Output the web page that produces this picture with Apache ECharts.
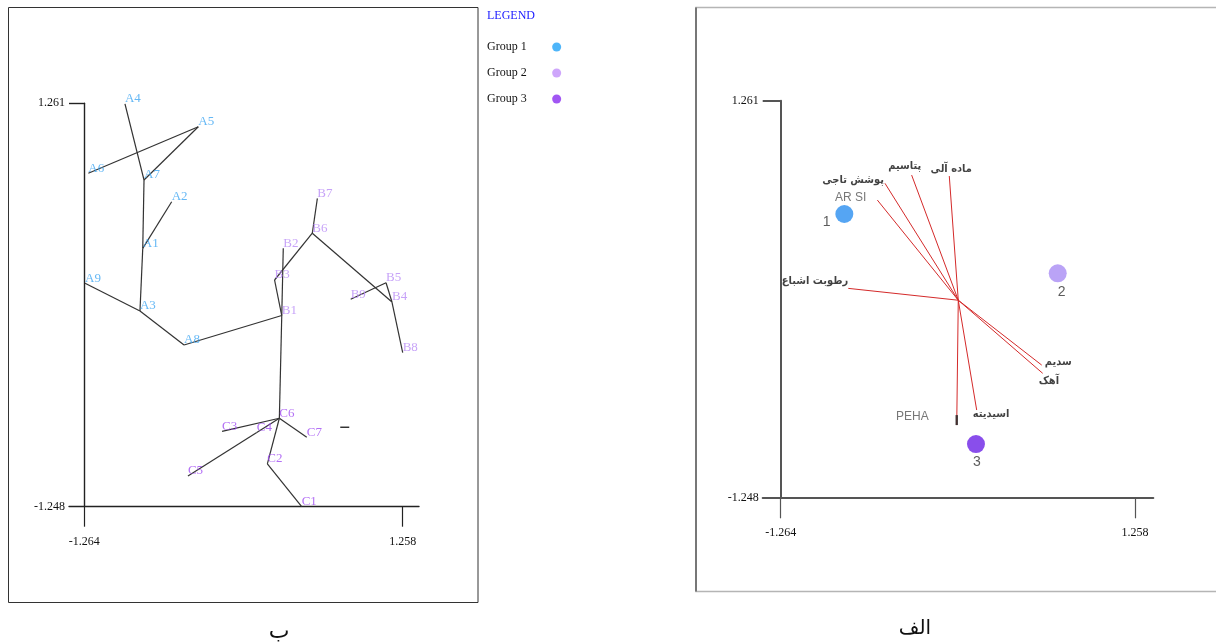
<!DOCTYPE html>
<html>
<head>
<meta charset="utf-8">
<script src="https://cdn.jsdelivr.net/npm/echarts@6/dist/echarts.min.js"></script>
<style>
  html, body { margin: 0; padding: 0; background: #fff; }
  #chart { width: 1216px; height: 643px; }
</style>
</head>
<body>
<div id="chart"></div>
<script>
// ---------- Panel ب : spanning tree of the sampling sites ----------
const sitesA  = ['A1', 'A2', 'A3', 'A4', 'A5', 'A6', 'A7', 'A8', 'A9'];
const sitesAX = [-0.801, -0.572, -0.823, -0.942, -0.361, -1.232, -0.791, -0.474, -1.258];
const sitesAY = [0.359, 0.649, -0.031, 1.257, 1.115, 0.826, 0.784, -0.242, 0.142];

const sitesB  = ['B1', 'B2', 'B3', 'B4', 'B5', 'B6', 'B7', 'B8', 'B9'];
const sitesBX = [0.300, 0.312, 0.243, 1.173, 1.126, 0.542, 0.582, 1.258, 0.846];
const sitesBY = [-0.059, 0.359, 0.162, 0.025, 0.145, 0.453, 0.670, -0.290, 0.042];

const sitesC  = ['C1', 'C2', 'C3', 'C4', 'C5', 'C6', 'C7'];
const sitesCX = [0.458, 0.186, -0.173, 0.102, -0.443, 0.281, 0.498];
const sitesCY = [-1.248, -0.982, -0.780, -0.787, -1.057, -0.698, -0.816];

const treeEdges = [
  ['A4', 'A7'], ['A5', 'A6'], ['A5', 'A7'], ['A7', 'A1'], ['A1', 'A2'], ['A1', 'A3'],
  ['A3', 'A9'], ['A3', 'A8'], ['A8', 'B1'], ['B1', 'B2'], ['B1', 'B3'], ['B3', 'B6'],
  ['B6', 'B7'], ['B6', 'B4'], ['B4', 'B5'], ['B5', 'B9'], ['B4', 'B8'], ['B1', 'C6'],
  ['C6', 'C7'], ['C6', 'C2'], ['C2', 'C1'], ['C6', 'C4'], ['C4', 'C5'], ['C6', 'C3']
];

// short stray dash inside the tree panel
const dashX = [0.799];
const dashY = [-0.754];

// ---------- Panel الف : group centroids and variable vectors ----------
const variables = ['ماده آلی', 'پتاسیم', 'پوشش تاجی', 'AR SI', 'رطوبت اشباع', 'سدیم', 'آهک', 'PEHA', 'اسیدیته'];
const loadingX  = [-0.064, -0.332, -0.522, -0.576, -0.783, 0.594, 0.601, -0.011, 0.131];
const loadingY  = [0.785, 0.791, 0.739, 0.633, 0.075, -0.410, -0.462, -0.789, -0.694];

const groupNames  = ['Group 1', 'Group 2', 'Group 3'];
const groupLabels = ['1', '2', '3'];
const centroidX   = [-0.811, 0.708, 0.126];
const centroidY   = [0.545, 0.170, -0.909];

// axis extremes printed on both panels
const xTicks = [-1.264, 1.258];
const yTicks = [-1.248, 1.261];

// ---------- styling ----------
const serif = 'Liberation Serif';
const arabicFont = '"DejaVu Sans Condensed", "DejaVu Sans"';
const siteColors = { A: '#3ea6f2', B: '#b98cf6', C: '#a04cf2' };
const groupDotColors = ['#2b8ef0', '#a98cf4', '#6c22e6'];
const legendDotColors = ['#22a2f8', '#c290fa', '#8a2cf0'];

const loadingLabelPlacement = {
  'ماده آلی':   { align: 'center', offset: [2, -7] },
  'پتاسیم':     { align: 'center', offset: [-7, -9] },
  'پوشش تاجی':  { align: 'right',  offset: [-1, -3] },
  'AR SI':      { align: 'right',  offset: [-11, -2] },
  'رطوبت اشباع': { align: 'right',  offset: [0, -7] },
  'سدیم':       { align: 'left',   offset: [3, -3] },
  'آهک':        { align: 'left',   offset: [-4, 8] },
  'PEHA':       { align: 'right',  offset: [-28, -8] },
  'اسیدیته':    { align: 'left',   offset: [-4, 4] }
};
const groupLabelOffset = [[-17.6, 7.7], [4, 18.4], [1, 18]];

// ---------- helpers ----------
const sitePos = {};
[[sitesA, sitesAX, sitesAY], [sitesB, sitesBX, sitesBY], [sitesC, sitesCX, sitesCY]].forEach(([n, xs, ys]) => {
  n.forEach((name, i) => { sitePos[name] = [xs[i], ys[i]]; });
});

function siteSeries(names, xs, ys, color) {
  return {
    type: 'scatter', xAxisIndex: 0, yAxisIndex: 0, clip: false, silent: true,
    symbolSize: 2, itemStyle: { color: 'rgba(0,0,0,0)' },
    label: {
      show: true, formatter: '{b}', position: 'inside', align: 'left', verticalAlign: 'bottom',
      offset: [0, 1.5], color: color, fontFamily: serif, fontSize: 13
    },
    data: names.map((n, i) => ({ name: n, value: [xs[i], ys[i]] }))
  };
}

function axesFor(gridIndex, xMin, xMax, tickLen, yTickLen, lineColor, lineWidth) {
  const labelStyle = { fontFamily: serif, fontSize: 12, color: '#111' };
  const xAxis = {
    gridIndex, type: 'value', position: 'bottom', min: xMin, max: xMax,
    splitLine: { show: false },
    axisLine: { show: true, onZero: false, lineStyle: { color: lineColor, width: lineWidth } },
    axisTick: { show: true, customValues: xTicks, length: tickLen, lineStyle: { color: lineColor, width: 1.2 } },
    axisLabel: Object.assign({ customValues: xTicks, margin: 29, formatter: v => v.toFixed(3) }, labelStyle)
  };
  const yLabels = {
    gridIndex, type: 'value', position: 'left', min: yTicks[0], max: yTicks[1],
    splitLine: { show: false },
    axisLine: { show: false, onZero: false },
    axisTick: { show: true, inside: true, customValues: [yTicks[1]], length: yTickLen,
                lineStyle: { color: lineColor, width: lineWidth } },
    axisLabel: Object.assign({ customValues: yTicks, margin: 4, padding: [0, 0, 8, 0],
                               formatter: v => v.toFixed(3) }, labelStyle)
  };
  const yLine = {
    gridIndex, type: 'value', position: 'left', min: yTicks[0], max: yTicks[1], offset: -yTickLen,
    splitLine: { show: false },
    axisLine: { show: true, onZero: false, lineStyle: { color: lineColor, width: lineWidth } },
    axisTick: { show: false }, axisLabel: { show: false }
  };
  return { xAxis, yAxes: [yLabels, yLine] };
}

const leftAxes = axesFor(0, -1.3852, 1.3871, 20, 15.3, '#222', 1.4);
const rightAxes = axesFor(1, -1.3921, 1.3882, 20.6, 18, '#555', 2);

const chart = echarts.init(document.getElementById('chart'), null, { renderer: 'canvas' });

const option = {
  backgroundColor: '#fff',
  animation: false,
  title: [{
    text: 'LEGEND', left: 487, top: 10, padding: 0,
    textStyle: { color: '#1a1aff', fontFamily: serif, fontSize: 12, fontWeight: 'normal' }
  }],
  legend: {
    orient: 'vertical', left: 487, top: 41, padding: 0, itemGap: 14,
    // wide icon box keeps the round dot centred well to the right of its name
    itemWidth: 50, itemHeight: 9, symbolKeepAspect: true,
    align: 'right', icon: 'circle', selectedMode: false,
    textStyle: { fontFamily: serif, fontSize: 12, color: '#111' },
    data: groupNames.map((n, i) => ({ name: n, itemStyle: { color: legendDotColors[i] } }))
  },
  grid: [
    { left: 69, top: 103.3, width: 350, height: 403.4, outerBoundsMode: 'none' },
    { left: 762.7, top: 100.7, width: 390.6, height: 397, outerBoundsMode: 'none' }
  ],
  xAxis: [leftAxes.xAxis, rightAxes.xAxis],
  yAxis: [leftAxes.yAxes[0], leftAxes.yAxes[1], rightAxes.yAxes[0], rightAxes.yAxes[1]],
  graphic: [
    { type: 'rect', silent: true, shape: { x: 8.5, y: 7.5, width: 469.5, height: 595 },
      style: { fill: 'none', stroke: '#333', lineWidth: 1 } },
    { type: 'rect', silent: true, shape: { x: 696, y: 7.5, width: 620, height: 584 },
      style: { fill: 'none', stroke: '#b5b5b5', lineWidth: 1.5 } },
    { type: 'line', silent: true, shape: { x1: 696, y1: 7.5, x2: 696, y2: 591.5 },
      style: { stroke: '#777', lineWidth: 2 } },
    { type: 'text', silent: true, x: 279, y: 632,
      style: { text: 'ب', font: '22px "DejaVu Sans"', fill: '#111', align: 'center', verticalAlign: 'middle' } },
    { type: 'text', silent: true, x: 915, y: 629,
      style: { text: 'الف', font: '20px "DejaVu Sans"', fill: '#111', align: 'center', verticalAlign: 'middle' } }
  ],
  series: [
    // tree edges
    {
      type: 'lines', coordinateSystem: 'cartesian2d', xAxisIndex: 0, yAxisIndex: 0, silent: true, clip: false,
      lineStyle: { color: '#333', width: 1.2, opacity: 1 },
      data: treeEdges.map(([a, b]) => ({ coords: [sitePos[a], sitePos[b]] }))
    },
    siteSeries(sitesA, sitesAX, sitesAY, siteColors.A),
    siteSeries(sitesB, sitesBX, sitesBY, siteColors.B),
    siteSeries(sitesC, sitesCX, sitesCY, siteColors.C),
    {
      type: 'scatter', xAxisIndex: 0, yAxisIndex: 0, silent: true, symbol: 'rect', symbolSize: [9, 1.5],
      itemStyle: { color: '#000' }, data: dashX.map((x, i) => [x, dashY[i]])
    },
    // variable vectors from the origin
    {
      type: 'lines', coordinateSystem: 'cartesian2d', xAxisIndex: 1, yAxisIndex: 2, silent: true, clip: false,
      lineStyle: { color: '#d42a2a', width: 1, opacity: 1 },
      data: variables.map((v, i) => ({ coords: [[0, 0], [loadingX[i], loadingY[i]]] }))
    },
    {
      type: 'scatter', xAxisIndex: 1, yAxisIndex: 2, silent: true, clip: false,
      symbolSize: 1, itemStyle: { color: 'rgba(0,0,0,0)' },
      data: variables.map((v, i) => {
        const p = loadingLabelPlacement[v];
        const latin = /^[A-Z ]+$/.test(v);
        return {
          name: v, value: [loadingX[i], loadingY[i]],
          label: {
            show: true, formatter: '{b}', position: 'inside', align: p.align, verticalAlign: 'middle',
            offset: p.offset,
            fontFamily: latin ? 'Liberation Sans' : arabicFont,
            fontWeight: latin ? 'normal' : 'bold',
            fontSize: latin ? 12 : 11,
            color: latin ? '#555' : '#111'
          }
        };
      })
    },
    // dark end bar on the PEHA vector
    {
      type: 'scatter', xAxisIndex: 1, yAxisIndex: 2, silent: true, symbol: 'rect', symbolSize: [2.5, 10],
      symbolOffset: [0, -5], itemStyle: { color: '#222' },
      data: [[loadingX[variables.indexOf('PEHA')], loadingY[variables.indexOf('PEHA')]]]
    },
    // group centroids
    ...groupNames.map((g, i) => ({
      name: g, type: 'scatter', xAxisIndex: 1, yAxisIndex: 2, silent: true,
      symbol: 'circle', symbolSize: 18, itemStyle: { color: groupDotColors[i] },
      label: {
        show: true, formatter: groupLabels[i], position: 'inside', align: 'center', verticalAlign: 'middle',
        offset: groupLabelOffset[i], fontFamily: 'Liberation Sans', fontSize: 14, color: '#333'
      },
      data: [[centroidX[i], centroidY[i]]]
    }))
  ]
};

chart.setOption(option);
</script>
</body>
</html>
